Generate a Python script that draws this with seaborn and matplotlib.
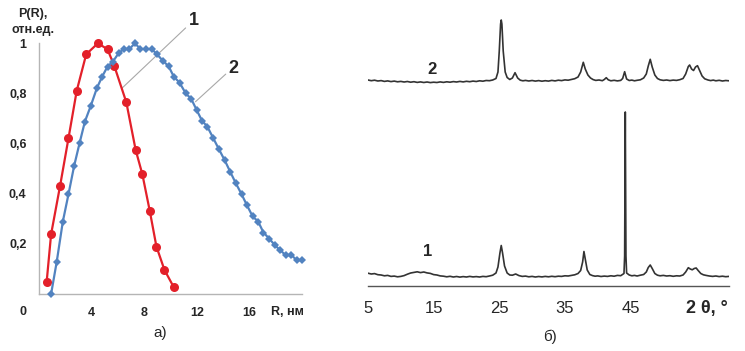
import matplotlib
matplotlib.use('Agg')
import matplotlib.pyplot as plt
import seaborn as sns

# --- a) P(R) distributions ---
r_1 = [0.58, 0.92, 1.6, 2.24, 2.87, 3.59, 4.48, 5.21, 5.73, 6.64, 7.35, 7.86, 8.42, 8.93, 9.54, 10.25]
p_1 = [0.047, 0.238, 0.43, 0.62, 0.81, 0.955, 0.999, 0.975, 0.908, 0.764, 0.574, 0.477, 0.332, 0.189, 0.096, 0.027]

r_2 = [0.92, 1.35, 1.81, 2.24, 2.67, 3.08, 3.49, 3.94, 4.4, 4.8, 5.21, 5.62, 6.05, 6.44, 6.87, 7.3,
       7.7, 8.14, 8.57, 8.98, 9.4, 9.85, 10.25, 10.69, 11.15, 11.58, 11.99, 12.4, 12.8, 13.26, 13.67,
       14.13, 14.53, 14.97, 15.4, 15.8, 16.24, 16.67, 17.07, 17.5, 17.93, 18.33, 18.76, 19.19, 19.6, 20.03]
p_2 = [0.0, 0.129, 0.288, 0.397, 0.51, 0.60, 0.687, 0.75, 0.82, 0.866, 0.906, 0.926, 0.959, 0.976, 0.976, 0.999,
       0.976, 0.976, 0.976, 0.955, 0.93, 0.908, 0.866, 0.842, 0.8, 0.777, 0.733, 0.69, 0.667, 0.62, 0.578,
       0.532, 0.488, 0.441, 0.398, 0.355, 0.31, 0.288, 0.245, 0.221, 0.195, 0.175, 0.155, 0.155, 0.135, 0.135]

r_ticks = [0, 4, 8, 12, 16, 20]
r_ticklabels = ['', '4', '8', '12', '16', '']
p_ticks = [0.2, 0.4, 0.6, 0.8, 1.0]
p_ticklabels = ['0,2', '0,4', '0,6', '0,8', '1']

# --- б) XRD patterns (intensity in arbitrary units, curves shifted) ---
tt_1 = [5.0, 5.5, 6.0, 6.5, 7.0, 7.5, 8.0, 8.5, 9.0, 9.5,
        10.0, 10.5, 11.0, 11.5, 12.0, 12.5, 13.0, 13.5, 14.0, 14.5,
        15.0, 15.5, 16.0, 16.5, 17.0, 17.5, 18.0, 18.5, 19.0, 19.5,
        20.0, 20.5, 21.0, 21.5, 22.0, 22.5, 23.0, 23.5, 24.0, 24.5,
        24.8, 25.1, 25.3, 25.5, 25.8, 26.2, 26.6, 27.0, 27.5, 28.0,
        28.5, 29.0, 29.5, 30.0, 30.5, 31.0, 31.5, 32.0, 32.5, 33.0,
        33.5, 34.0, 34.5, 35.0, 35.5, 36.0, 36.5, 37.0, 37.4, 37.7,
        37.9, 38.1, 38.4, 38.8, 39.2, 39.6, 40.0, 40.5, 41.0, 41.5,
        42.0, 42.5, 43.0, 43.5, 44.0, 44.1, 44.2, 44.3, 44.4, 44.8,
        45.2, 45.6, 46.0, 46.5, 47.0, 47.4, 47.7, 48.0, 48.3, 48.7,
        49.1, 49.5, 50.0, 50.5, 51.0, 51.5, 52.0, 52.5, 53.0, 53.4,
        53.8, 54.1, 54.4, 54.7, 55.0, 55.3, 55.7, 56.1, 56.5, 57.0,
        57.5, 58.0, 58.5, 59.0, 59.5, 60.0]
int_1 = [12.8, 12.0, 12.4, 11.3, 11.0, 10.2, 10.6, 9.6, 9.9, 9.2,
         9.6, 10.4, 11.8, 13.0, 13.6, 14.2, 13.4, 14.0, 13.1, 12.6,
         11.4, 11.0, 10.1, 9.8, 9.2, 9.7, 9.0, 9.5, 8.9, 9.4,
         9.0, 9.6, 9.1, 9.4, 9.0, 9.6, 9.3, 10.0, 10.8, 13.0,
         19.0, 33.0, 40.5, 33.0, 20.0, 13.0, 11.0, 10.8, 12.0, 10.4,
         9.6, 9.9, 9.2, 9.6, 9.0, 9.5, 9.1, 9.6, 9.2, 9.7,
         9.3, 9.8, 9.6, 10.2, 10.0, 10.6, 11.2, 12.5, 15.5, 24.0,
         34.5, 27.0, 16.0, 11.5, 10.4, 9.8, 10.1, 9.5, 9.9, 9.6,
         10.2, 9.8, 10.6, 10.3, 12.5, 30.0, 174.0, 30.0, 13.0, 11.0,
         10.2, 10.6, 10.0, 10.8, 11.5, 14.0, 18.5, 21.0, 17.5, 12.5,
         10.8, 10.2, 10.6, 10.0, 10.3, 9.7, 10.2, 10.0, 11.0, 14.0,
         18.3, 17.0, 16.2, 17.5, 18.0, 15.5, 12.5, 11.2, 10.6, 10.0,
         9.6, 10.0, 9.4, 9.8, 9.3, 9.6]

tt_2 = [5.0, 5.5, 6.0, 6.5, 7.0, 7.5, 8.0, 8.5, 9.0, 9.5,
        10.0, 10.5, 11.0, 11.5, 12.0, 12.5, 13.0, 13.5, 14.0, 14.5,
        15.0, 15.5, 16.0, 16.5, 17.0, 17.5, 18.0, 18.5, 19.0, 19.5,
        20.0, 20.5, 21.0, 21.5, 22.0, 22.5, 23.0, 23.5, 24.0, 24.5,
        24.8, 25.0, 25.2, 25.3, 25.4, 25.6, 25.9, 26.2, 26.6, 27.0,
        27.4, 27.8, 28.2, 28.6, 29.0, 29.5, 30.0, 30.5, 31.0, 31.5,
        32.0, 32.5, 33.0, 33.5, 34.0, 34.5, 35.0, 35.5, 36.0, 36.5,
        37.0, 37.4, 37.8, 38.1, 38.5, 38.9, 39.3, 39.7, 40.2, 40.7,
        41.0, 41.3, 41.6, 42.0, 42.5, 43.0, 43.5, 43.8, 44.1, 44.4,
        44.8, 45.2, 45.6, 46.0, 46.5, 47.0, 47.4, 47.7, 48.0, 48.3,
        48.7, 49.1, 49.5, 50.0, 50.5, 51.0, 51.5, 52.0, 52.5, 53.0,
        53.4, 53.8, 54.0, 54.3, 54.6, 54.9, 55.2, 55.5, 55.9, 56.3,
        56.8, 57.2, 57.6, 58.0, 58.5, 59.0, 59.5, 60.0]
int_2 = [206.0, 205.3, 205.8, 205.0, 205.4, 204.6, 205.1, 204.4, 204.9, 204.2,
         204.6, 204.0, 204.5, 203.8, 204.3, 203.6, 204.1, 203.5, 204.0, 203.4,
         203.8, 203.5, 204.1, 203.6, 204.2, 203.8, 204.4, 204.0, 204.6, 204.1,
         204.7, 204.3, 204.9, 204.5, 205.2, 204.8, 205.5, 205.3, 206.0, 207.5,
         214.0, 235.0, 262.0, 266.0, 262.0, 235.0, 214.0, 208.5, 206.5, 208.0,
         213.3, 208.0, 205.8, 205.2, 205.6, 205.0, 205.5, 204.9, 205.4, 204.8,
         205.3, 204.9, 205.6, 205.1, 205.8, 205.4, 206.1, 205.8, 206.6, 207.3,
         209.0, 214.0, 223.7, 217.0, 211.0, 208.0, 206.4, 205.6, 206.0, 205.3,
         206.5, 208.3, 206.2, 205.2, 205.7, 205.1, 205.6, 207.5, 214.3, 207.0,
         205.5, 205.9, 205.2, 205.7, 206.2, 208.0, 212.0, 220.0, 226.7, 219.0,
         211.0, 207.5, 206.2, 205.6, 206.0, 205.4, 205.9, 205.6, 206.3, 207.5,
         212.0, 219.5, 221.0, 217.0, 215.5, 219.0, 220.3, 216.0, 210.0, 207.2,
         206.0, 205.4, 205.9, 205.2, 205.7, 205.0, 205.5, 205.2]

tt_ticks = [5, 15, 25, 35, 45, 55]
tt_ticklabels = ['5', '15', '25', '35', '45', '']

sns.set_style('white')
plt.rcParams['font.family'] = ['Liberation Sans', 'DejaVu Sans']

fig = plt.figure(figsize=(7.45, 3.51), dpi=100)
ax1 = fig.add_axes([39 / 745, 57 / 351, 263 / 745, 251 / 351])
ax2 = fig.add_axes([368 / 745, 65 / 351, 361 / 745, 271 / 351])

# left panel
red = '#e3202a'
blue = '#5283c0'
sns.lineplot(x=r_1, y=p_1, ax=ax1, color=red, lw=1.6, marker='o', markersize=6.5,
             markeredgewidth=0, clip_on=False, zorder=3)
sns.lineplot(x=r_2, y=p_2, ax=ax1, color=blue, lw=1.6, marker='D', markersize=4.5,
             markeredgewidth=0, clip_on=False, zorder=3)
ax1.set_xlim(0, 20)
ax1.set_ylim(0, 1)
for s in ['top', 'right']:
    ax1.spines[s].set_visible(False)
for s in ['left', 'bottom']:
    ax1.spines[s].set_color('#b5b5b5')
    ax1.spines[s].set_linewidth(1)
ax1.set_xticks(r_ticks)
ax1.set_xticklabels(r_ticklabels, fontweight='bold', fontsize=9)
ax1.set_yticks(p_ticks)
ax1.set_yticklabels(p_ticklabels, fontweight='bold', fontsize=9)
ax1.tick_params(axis='both', direction='out', length=4, width=1, color='#b5b5b5')
ax1.tick_params(axis='x', pad=5)
ax1.tick_params(axis='y', pad=5)
ax1.text(-1.22, -0.072, '0', ha='center', va='center', fontweight='bold', fontsize=9)
ax1.text(18.9, -0.072, 'R, нм', ha='center', va='center', fontweight='bold', fontsize=9)

# leader lines and curve numbers
ax1.plot([11.15, 6.31], [1.06, 0.82], color='#a8a8a8', lw=0.8, clip_on=False)
ax1.plot([14.2, 11.9], [0.876, 0.766], color='#a8a8a8', lw=0.8, clip_on=False)
ax1.text(11.76, 1.09, '1', ha='center', va='center', fontweight='bold', fontsize=13)
ax1.text(14.8, 0.90, '2', ha='center', va='center', fontweight='bold', fontsize=13)

fig.text(33 / 745, 1 - 14 / 351, 'P(R),', ha='center', va='center', fontweight='bold', fontsize=9)
fig.text(33 / 745, 1 - 30 / 351, 'отн.ед.', ha='center', va='center', fontweight='bold', fontsize=9)

# right panel
sns.lineplot(x=tt_1, y=int_1, ax=ax2, color='#333333', lw=1.2)
sns.lineplot(x=tt_2, y=int_2, ax=ax2, color='#333333', lw=1.2)
ax2.set_xlim(5, 60)
ax2.set_ylim(0, 271)
for s in ['top', 'right', 'left']:
    ax2.spines[s].set_visible(False)
ax2.spines['bottom'].set_color('#555555')
ax2.spines['bottom'].set_linewidth(1)
ax2.set_yticks([])
ax2.set_xticks(tt_ticks)
ax2.set_xticklabels(tt_ticklabels, fontsize=12)
ax2.tick_params(axis='x', direction='out', length=5, width=1, color='#555555', pad=6)
ax2.text(56.6, -22, '2 θ, °', ha='center', va='center', fontweight='bold', fontsize=13)
ax2.text(14.7, 216, '2', ha='center', va='center', fontweight='bold', fontsize=12)
ax2.text(14.1, 34, '1', ha='center', va='center', fontweight='bold', fontsize=12)

fig.text(160 / 745, 1 - 333 / 351, 'а)', ha='center', va='center', fontsize=11)
fig.text(550 / 745, 1 - 337 / 351, 'б)', ha='center', va='center', fontsize=11)

fig.savefig('out.png', dpi=100)
